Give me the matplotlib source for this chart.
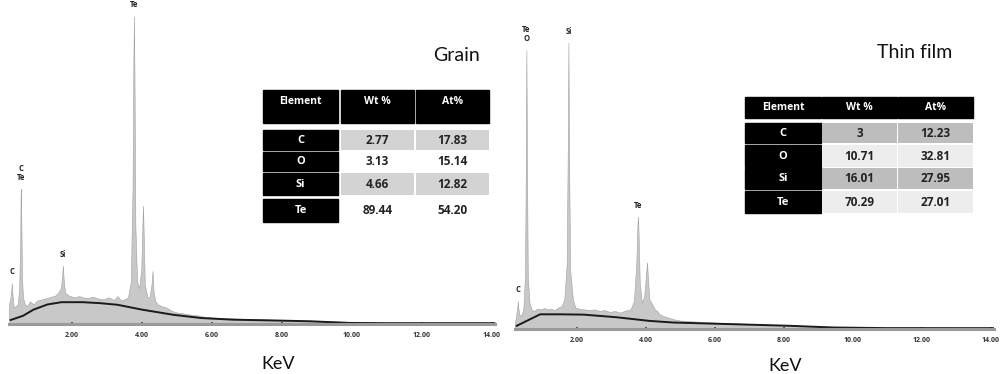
import matplotlib.pyplot as plt
from matplotlib.patches import Rectangle

plt.rcParams['font.family'] = ['Lato', 'DejaVu Sans']
BOLD = ['Open Sans', 'DejaVu Sans']

# spectrum, grain (keV, counts)
grain_kev = [0.20, 0.24, 0.27, 0.28, 0.29, 0.32, 0.36, 0.40, 0.45, 0.49, 0.52, 0.53, 0.54, 0.55,
             0.57, 0.60, 0.65, 0.72, 0.80, 0.90, 1.00, 1.10, 1.20, 1.30, 1.40, 1.50, 1.60, 1.68,
             1.72, 1.74, 1.76, 1.80, 1.90, 2.00, 2.10, 2.20, 2.30, 2.45, 2.60, 2.75, 2.90, 3.05,
             3.20, 3.30, 3.40, 3.50, 3.60, 3.68, 3.73, 3.755, 3.77, 3.785, 3.81, 3.86, 3.92, 3.98,
             4.015, 4.03, 4.045, 4.08, 4.16, 4.22, 4.27, 4.30, 4.33, 4.38, 4.45, 4.55, 4.70, 4.85,
             5.00, 5.20, 5.40, 5.60, 5.80, 6.00, 6.30, 6.60, 7.00, 7.50, 8.00, 8.50, 9.00, 9.50,
             10.0, 11.0, 12.0, 13.0, 14.1]
grain_counts = [60, 80, 110, 126, 105, 60, 50, 55, 60, 110, 250, 380, 417, 340,
                150, 80, 62, 55, 70, 60, 72, 74, 78, 80, 84, 86, 95, 110,
                150, 180, 140, 96, 88, 84, 82, 86, 82, 80, 84, 78, 76, 82,
                74, 86, 72, 76, 82, 130, 420, 820, 950, 760, 300, 130, 110, 170,
                320, 365, 290, 120, 80, 85, 120, 163, 100, 70, 60, 55, 50, 40,
                35, 32, 28, 26, 22, 20, 18, 17, 15, 14, 12, 11, 10, 8,
                6, 5, 5, 5, 5]
grain_bg_kev = [0.25, 0.6, 0.9, 1.3, 1.7, 2.3, 2.8, 3.3, 4.0, 4.9, 5.7, 6.6, 8.0, 8.8, 9.9, 11.0, 14.1]
grain_bg = [12, 25, 44, 60, 67, 67, 64, 59, 44, 28, 18, 13, 10, 8, 3, 2, 2]

# spectrum, thin film
film_kev = [0.20, 0.24, 0.27, 0.28, 0.29, 0.32, 0.38, 0.44, 0.49, 0.515, 0.53, 0.545, 0.57, 0.62,
            0.68, 0.75, 0.85, 0.95, 1.05, 1.15, 1.25, 1.35, 1.45, 1.55, 1.63, 1.70, 1.735, 1.75,
            1.765, 1.80, 1.88, 1.95, 2.05, 2.20, 2.35, 2.50, 2.65, 2.80, 2.95, 3.10, 3.25, 3.40,
            3.55, 3.65, 3.72, 3.755, 3.77, 3.785, 3.82, 3.88, 3.95, 4.00, 4.03, 4.06, 4.10, 4.18,
            4.26, 4.32, 4.40, 4.50, 4.65, 4.80, 5.00, 5.30, 5.60, 6.00, 6.50, 7.00, 7.50, 8.00,
            8.50, 9.00, 9.50, 10.0, 11.0, 12.0, 13.0, 14.1]
film_counts = [20, 45, 70, 85, 70, 45, 40, 60, 160, 520, 848, 560, 160, 80,
               60, 55, 62, 60, 64, 60, 62, 58, 65, 70, 90, 200, 600, 870,
               560, 180, 90, 66, 62, 60, 58, 60, 55, 58, 52, 55, 50, 56,
               60, 85, 200, 320, 342, 290, 140, 80, 100, 165, 203, 150, 90, 76,
               60, 55, 45, 40, 35, 30, 26, 24, 22, 20, 18, 16, 14, 12,
               10, 9, 7, 6, 5, 5, 4, 4]
film_bg_kev = [0.25, 0.54, 0.93, 1.5, 2.2, 3.15, 4.1, 4.8, 6.5, 8.2, 9.4, 11.0, 14.1]
film_bg = [10, 25, 45, 45, 44, 36, 25, 20, 15, 10, 5, 3, 3]

tick_kev = [2, 4, 6, 8, 10, 12, 14]
tick_labels = ["2.00", "4.00", "6.00", "8.00", "10.00", "12.00", "14.00"]

grain_peaks = [(3.77, 950, "Te"), (0.54, 417, "C\nTe"), (1.74, 180, "Si"), (0.28, 126, "C")]
film_peaks = [(0.53, 848, "Te\nO"), (1.75, 870, "Si"), (3.77, 342, "Te"), (0.28, 85, "C")]

elements = ["C", "O", "Si", "Te"]
grain_wt = ["2.77", "3.13", "4.66", "89.44"]
grain_at = ["17.83", "15.14", "12.82", "54.20"]
film_wt = ["3", "10.71", "16.01", "70.29"]
film_at = ["12.23", "32.81", "27.95", "27.01"]

fig = plt.figure(figsize=(10.01, 3.74), dpi=100)


def draw_spectrum(rect, kev, counts, bg_kev, bg, peaks):
    ax = fig.add_axes(rect)
    ax.fill_between(kev, 0, counts, color="#c8c8c8", edgecolor="#a0a0a0", lw=0.4)
    ax.plot(bg_kev, bg, color="#1a1a1a", lw=1.4)
    ax.set_xlim(0.2, 14.1)
    ax.set_ylim(0, 1000)
    for s in ["left", "right", "top"]:
        ax.spines[s].set_visible(False)
    ax.spines["bottom"].set_color("#9a9a9a")
    ax.spines["bottom"].set_linewidth(2.2)
    ax.set_yticks([])
    ax.set_xticks(tick_kev)
    ax.set_xticklabels(tick_labels, fontsize=5, fontweight="bold", color="#333333",
                       family=BOLD)
    ax.tick_params(axis="x", length=3, width=1.4, color="#555555", direction="inout", pad=4)
    for x, y, lab in peaks:
        ax.annotate(lab, (x, y), xytext=(0, 5), textcoords="offset points", ha="center",
                    va="bottom", fontsize=5.5, fontweight="bold", color="#222222",
                    linespacing=1.0, family=BOLD)
    ax.patch.set_alpha(0)
    return ax


draw_spectrum([0.009, 0.134, 0.486, 0.866], grain_kev, grain_counts, grain_bg_kev, grain_bg, grain_peaks)
draw_spectrum([0.5145, 0.120, 0.4785, 0.880], film_kev, film_counts, film_bg_kev, film_bg, film_peaks)

# overlay in pixel coordinates for titles and tables
ov = fig.add_axes([0, 0, 1, 1])
ov.set_xlim(0, 1001)
ov.set_ylim(374, 0)
ov.axis("off")
ov.patch.set_alpha(0)

ov.text(456, 55, "Grain", fontsize=14, ha="center", va="center", color="#111111")
ov.text(915, 52, "Thin film", fontsize=14, ha="center", va="center", color="#111111")
ov.text(278, 364, "KeV", fontsize=13, ha="center", va="center", color="#111111")
ov.text(785, 366, "KeV", fontsize=13, ha="center", va="center", color="#111111")


def draw_table(cols, header, header_text_y, rows, wt, at, shade, light):
    names = ["Element", "Wt %", "At%"]
    for (x0, x1), name in zip(cols, names):
        ov.add_patch(Rectangle((x0, header[0]), x1 - x0, header[1] - header[0], color="black"))
        ov.text((x0 + x1) / 2, header_text_y, name, ha="center", va="center", fontsize=7.5,
                fontweight="bold", color="white", family=BOLD)
    for i, (y0, y1) in enumerate(rows):
        ex0, ex1 = cols[0]
        ov.add_patch(Rectangle((ex0, y0), ex1 - ex0, y1 - y0, color="black"))
        ov.text((ex0 + ex1) / 2, (y0 + y1) / 2, elements[i], ha="center", va="center",
                fontsize=8, fontweight="bold", color="white", family=BOLD)
        fc = shade if i % 2 == 0 else light
        for (x0, x1), val in zip(cols[1:], [wt[i], at[i]]):
            ov.add_patch(Rectangle((x0, y0), x1 - x0, y1 - y0, facecolor=fc, edgecolor="none"))
            ov.text((x0 + x1) / 2, (y0 + y1) / 2, val, ha="center", va="center",
                    fontsize=8.5, fontweight="bold", color="#222222", family=BOLD)


draw_table([(263, 338), (341, 414), (416, 489)], (90, 123), 101,
           [(130, 150), (152, 171), (173, 195), (199, 222)],
           grain_wt, grain_at, "#d3d3d3", "#ffffff")
draw_table([(745, 821), (822, 897), (898, 973)], (97, 118), 107,
           [(123, 143), (145, 167), (168, 189), (191, 213)],
           film_wt, film_at, "#bdbdbd", "#ededed")

fig.savefig("out.png", dpi=100)
